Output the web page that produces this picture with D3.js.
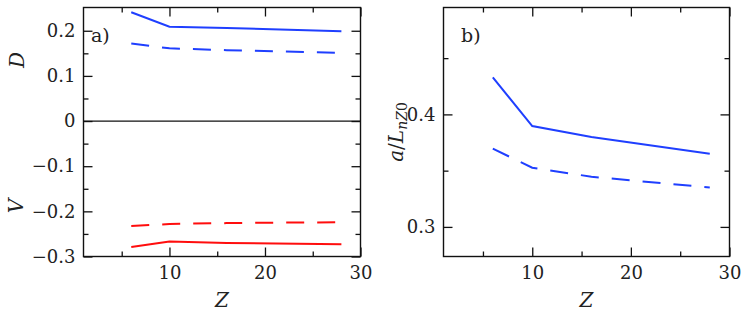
<!DOCTYPE html>
<html>
<head>
<meta charset="utf-8">
<script src="https://cdn.jsdelivr.net/npm/d3@7"></script>
<style>
  body { margin: 0; background: #fff; }
  .tick text { fill: #222; }
</style>
</head>
<body>
<svg id="chart" width="747" height="311"></svg>
<script>
// charge numbers, shared by both panels
const zValues = [6, 10, 16, 28];

// panel a) transport coefficients
const dSolid = [0.241, 0.209, 0.206, 0.199];
const dDashed = [0.172, 0.161, 0.157, 0.151];
const vSolid = [-0.279, -0.267, -0.270, -0.273];
const vDashed = [-0.2325, -0.228, -0.226, -0.224];

// panel b) normalised gradient
const gSolid = [0.433, 0.3896, 0.380, 0.365];
const gDashed = [0.3695, 0.3526, 0.3446, 0.335];

const xMajor = [10, 20, 30];
const xMinor = [5, 15, 25];
const aMajor = [-0.3, -0.2, -0.1, 0, 0.1, 0.2];
const aMinor = [-0.25, -0.15, -0.05, 0.05, 0.15];
const bMajor = [0.3, 0.4];
const bMinor = [0.35, 0.45];

const blue = '#1f3fff';
const red = '#ff0d0d';
const serif = '"DejaVu Serif", "Liberation Serif", serif';

const svg = d3.select('#chart').attr('font-family', serif);
const plotTop = 7.5, plotBottom = 256.5;

function panel(x0, x1, yDomain, yMajor, yMinor, series) {
  const x = d3.scaleLinear().domain([1, 30]).range([x0, x1]);
  const y = d3.scaleLinear().domain(yDomain).range([plotBottom, plotTop]);
  const g = svg.append('g');

  const axes = [
    [d3.axisBottom(x), `translate(0,${plotBottom})`, xMajor, xMinor, true, 10],
    [d3.axisTop(x), `translate(0,${plotTop})`, xMajor, xMinor, false, 0],
    [d3.axisLeft(y), `translate(${x0},0)`, yMajor, yMinor, true, 8],
    [d3.axisRight(y), `translate(${x1},0)`, yMajor, yMinor, false, 0]
  ];
  axes.forEach(([ax, tr, major, minor, labels, pad]) => {
    const a = g.append('g').attr('transform', tr)
      .call(ax.tickValues(major).tickSize(-9).tickPadding(pad)
        .tickFormat(labels ? d3.format('') : ''));
    a.attr('font-family', serif).attr('font-size', 18);
    a.select('.domain').remove();
    a.selectAll('.tick line').attr('stroke', '#111').attr('stroke-width', 1.3);
    const m = g.append('g').attr('transform', tr)
      .call(ax.tickValues(minor).tickSize(-5).tickFormat(''));
    m.select('.domain').remove();
    m.selectAll('.tick line').attr('stroke', '#111').attr('stroke-width', 1.3);
  });

  const line = d3.line().x((d, i) => x(zValues[i])).y(d => y(d));
  series.forEach(s => {
    g.append('path')
      .datum(s.values)
      .attr('d', line)
      .attr('fill', 'none')
      .attr('stroke', s.color)
      .attr('stroke-width', 2)
      .attr('stroke-dasharray', s.dashed ? '18,13' : null);
  });

  g.append('rect')
    .attr('x', x0).attr('y', plotTop)
    .attr('width', x1 - x0).attr('height', plotBottom - plotTop)
    .attr('fill', 'none').attr('stroke', '#111').attr('stroke-width', 1.4);

  return { x, y, g };
}

const a = panel(83.5, 360.5, [-0.3, 0.2515], aMajor, aMinor, [
  { values: dSolid, color: blue },
  { values: dDashed, color: blue, dashed: true },
  { values: vDashed, color: red, dashed: true },
  { values: vSolid, color: red }
]);

a.g.append('line')
  .attr('x1', 83.5).attr('x2', 360.5)
  .attr('y1', a.y(0)).attr('y2', a.y(0))
  .attr('stroke', '#111').attr('stroke-width', 1.3);

const b = panel(443.5, 729.5, [0.2737, 0.495], bMajor, bMinor, [
  { values: gSolid, color: blue },
  { values: gDashed, color: blue, dashed: true }
]);

// panel tags
const tag = (tx, label) => svg.append('text').attr('x', tx).attr('y', 42)
  .attr('font-family', serif).attr('font-size', 19).attr('fill', '#222').text(label);
tag(91, 'a)');
tag(461, 'b)');

// axis titles
const zTitle = (cx) => svg.append('text')
  .attr('x', cx).attr('y', 307).attr('text-anchor', 'middle').attr('font-family', serif)
  .attr('font-size', 20).attr('font-style', 'italic').attr('fill', '#222').text('Z');
zTitle(222);
zTitle(586.5);

const yTitle = (tx, ty) => svg.append('text')
  .attr('transform', `translate(${tx},${ty}) rotate(-90)`)
  .attr('text-anchor', 'middle').attr('font-family', serif)
  .attr('font-size', 20).attr('fill', '#222');

yTitle(24, 60).attr('font-style', 'italic').text('D');
yTitle(23, 206).attr('font-style', 'italic').text('V');

const gl = yTitle(403, 132).attr('font-size', 20);
gl.append('tspan').attr('font-style', 'italic').text('a');
gl.append('tspan').text('/');
gl.append('tspan').attr('font-style', 'italic').text('L');
gl.append('tspan').attr('font-size', 14).attr('dy', 4).attr('font-style', 'italic').text('nZ');
gl.append('tspan').attr('font-size', 14).text('0');
</script>
</body>
</html>
